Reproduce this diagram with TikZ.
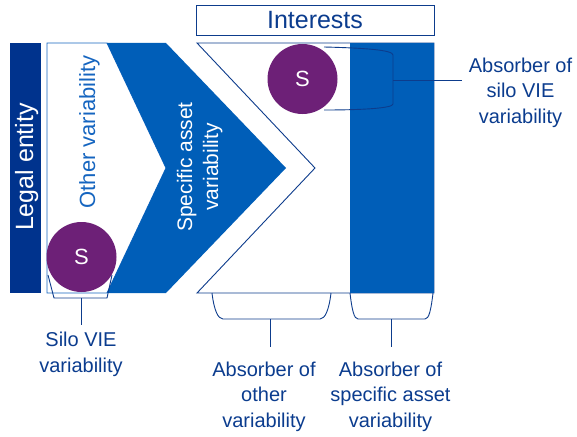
\documentclass[tikz,border=0pt]{standalone}
\usepackage{fontspec}
\setmainfont{Liberation Sans}
\definecolor{darkbar}{HTML}{00338D}
\definecolor{chevblue}{HTML}{005EB8}
\definecolor{siloPurple}{HTML}{6D2077}
\definecolor{lineblue}{HTML}{0D3C8C}
\definecolor{midblue}{HTML}{1565C0}
\definecolor{txtblue}{HTML}{0B3C8E}
\begin{document}
\begin{tikzpicture}[x=1pt,y=-1pt,
  ln/.style={draw=lineblue, line width=0.9pt},
  lnmid/.style={draw=midblue, line width=0.9pt},
  lbl/.style={font=\fontsize{20}{25.5}\selectfont, text=txtblue, align=center, inner sep=0pt},
  silo/.style={circle, fill=siloPurple, minimum size=70pt, inner sep=0pt, text=white, font=\fontsize{22}{26}\selectfont}
]
\useasboundingbox (0,0) rectangle (577,436);

% left white box
\draw[lnmid, fill=white] (47,43) -- (107,43) -- (166,168) -- (107,293) -- (47,293) -- cycle;
% blue chevron
\fill[chevblue] (107,43) -- (166,43) -- (286,168) -- (166,293) -- (107,293) -- (166,168) -- cycle;
% legal entity bar
\fill[darkbar] (10,43) rectangle (41,293);
\node[rotate=90, anchor=base, text=white, inner sep=0pt, font=\fontsize{25}{29}\selectfont] (legal) at (33,167) {Legal entity};
\node[rotate=90, anchor=base, text=midblue, inner sep=0pt, font=\fontsize{22}{26}\selectfont] (other) at (95,132) {Other variability};
\node[rotate=90, anchor=base, text=white, align=center, inner sep=0pt, font=\fontsize{21}{26}\selectfont] (spec) at (218,167) {Specific asset\\variability};

% silo bracket
\draw[ln] (48,275) -- (54,298) -- (107,298) -- (112,275);
\coordinate (b1) at (81,298);
\coordinate (b1e) at (81,325);
\draw[ln] (b1) -- (b1e);
\node[silo] (s1) at (81.5,257) {S};
\node[lbl, anchor=base] (silolbl) at (81,372) {Silo VIE\\variability};

% second shape
\draw[ln, fill=white] (197,43) -- (434,43) -- (434,293) -- (197,293) -- (315,168) -- cycle;
\fill[chevblue] (350,43) rectangle (434,293);

% interests
\node[draw=lineblue, line width=0.9pt, minimum width=238pt, minimum height=30pt, inner sep=0pt, text=txtblue, font=\fontsize{25}{29}\selectfont] (interests) at (315,20) {Interests};

% right bracket
\draw[ln] (324,47) .. controls (365,48) and (393,50) .. (393,55) -- (393,104) .. controls (393,108) and (365,110) .. (324,110);
\coordinate (b4) at (393,80);
\coordinate (b4e) at (462,80);
\draw[ln] (b4) -- (b4e);
\node[silo] (s2) at (302.5,79) {S};
\node[lbl, anchor=base] (silovie) at (520.5,123) {Absorber of\\silo VIE\\variability};

% bottom brackets
\draw[ln] (212,293) .. controls (214,310) and (218,319) .. (223,319) -- (320,319) .. controls (325,319) and (329,310) .. (331,293);
\coordinate (b2) at (270,319);
\coordinate (b2e) at (270,347);
\draw[ln] (b2) -- (b2e);
\node[lbl, anchor=base] (otherlbl) at (264,427) {Absorber of\\other\\variability};

\draw[ln] (350,293) .. controls (352,310) and (354,319) .. (358,319) -- (425,319) .. controls (429,319) and (431,310) .. (433,293);
\coordinate (b3) at (391,319);
\coordinate (b3e) at (391,347);
\draw[ln] (b3) -- (b3e);
\node[lbl, anchor=base] (speclbl) at (390.5,427) {Absorber of\\specific asset\\variability};
\end{tikzpicture}
\end{document}
